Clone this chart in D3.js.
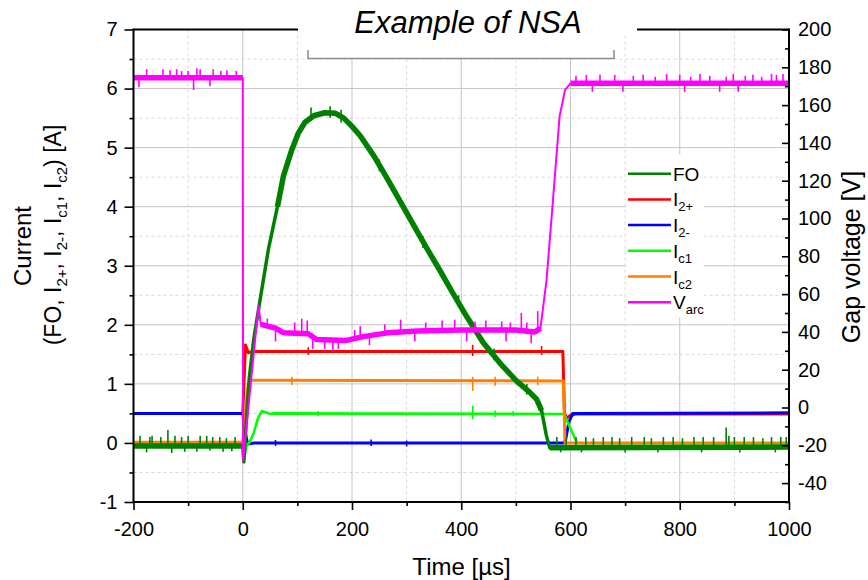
<!DOCTYPE html>
<html><head><meta charset="utf-8">
<script src="https://cdn.jsdelivr.net/npm/d3@7/dist/d3.min.js"></script>
<style>
body{margin:0;background:#fff;}
svg{display:block;font-family:"Liberation Sans",Arial,Helvetica,sans-serif;}
</style></head><body>
<svg id="chart" width="868" height="580"></svg>
<script>
// ---- axis ticks ----
const timeTicks = [-200, 0, 200, 400, 600, 800, 1000];
const timeMinor = [-100, 100, 300, 500, 700, 900];
const currentTicks = [-1, 0, 1, 2, 3, 4, 5, 6, 7];
const currentMinor = [-0.5, 0.5, 1.5, 2.5, 3.5, 4.5, 5.5, 6.5];
const voltageTicks = [-40, -20, 0, 20, 40, 60, 80, 100, 120, 140, 160, 180, 200];
const voltageMinor = [-50, -30, -10, 10, 30, 50, 70, 90, 110, 130, 150, 170, 190];

// ---- traces: [time µs, value] ----
const foTrace = [[-200,-0.05],[0,-0.05],[2,-0.32],[6,0.3],[12,1.1],[20,1.75],[34,2.55],[47,3.28],
  [63.5,4.0],[74.5,4.52],[90,4.97],[102,5.25],[114,5.43],[130,5.54],[150,5.59],[170,5.58],[185,5.5],
  [200,5.36],[215,5.2],[240,4.86],[263,4.5],[290,4.06],[312,3.7],[336,3.31],[361,2.92],[385,2.53],
  [410,2.14],[440,1.7],[470,1.36],[501,1.05],[525,0.86],[538,0.74],[547,0.55],[556,0.12],[562,-0.08],
  [1000,-0.07]];
const i2pTrace = [[-200,0.5],[0,0.5],[5,1.66],[10,1.53],[20,1.55],[586,1.55],[589,0.5],[593,0.42],
  [600,0.47],[610,0.49],[1000,0.49]];
const i2mTrace = [[-200,0.5],[0,0.5],[4,0.2],[9,-0.02],[20,0.0],[588,0.0],[591,0.05],[597,0.35],
  [604,0.5],[1000,0.51]];
const ic1Trace = [[-200,0.0],[0,0.0],[3,-0.25],[7,-0.03],[12,0.0],[20,0.17],[28,0.42],[35,0.54],
  [42,0.52],[50,0.49],[56,0.5],[588,0.49],[612,0.0],[1000,-0.01]];
const ic2Trace = [[-200,0.01],[0,0.01],[3,0.35],[10,1.0],[16,1.06],[587,1.05],[590,0.0],[1000,0.0]];
const varcTrace = [[-200,174.5],[0,174.5],[0.6,-28],[29,54],[33,44],[60,42],[75,39.5],[120,39],
  [135,36],[190,35.5],[220,37.5],[265,39.5],[320,40.5],[400,41],[500,41],[535,40],[545,42],
  [556,67],[568,110],[580,154],[590,168],[600,171.5],[1000,171.5]];

// time spans where a trace is a noisy plateau (drawn as a wider band)
const foBands = [[-200,0],[60,550],[562,1000]];
const varcBands = [[-200,0],[33,545],[600,1000]];

// ---- glitches: [time µs, low, high] ----
const foSpikes = [[-188,-0.05,0.12],[-176,-0.16,-0.05],[-170,-0.05,0.1],[-166,-0.05,0.12],[-150,-0.05,0.1],
  [-137,-0.05,0.22],[-130,-0.17,-0.05],[-124,-0.05,0.12],[-112,-0.05,0.1],[-106,-0.15,-0.05],[-100,-0.05,0.12],
  [-84,-0.15,-0.05],[-78,-0.05,0.12],[-66,-0.05,0.12],[-60,-0.13,-0.05],[-55,-0.05,0.1],[-42,-0.05,0.1],
  [-36,-0.15,-0.05],[-30,-0.05,0.08],[-20,-0.14,-0.05],[-14,-0.05,0.1],
  [575,-0.08,0.1],[582,-0.16,-0.08],[592,-0.08,0.08],[610,-0.08,0.1],[620,-0.16,-0.08],[628,-0.08,0.1],
  [642,-0.08,0.08],[660,-0.08,0.1],[676,-0.08,0.1],[690,-0.08,0.08],[700,-0.16,-0.08],[712,-0.08,0.1],
  [735,-0.08,0.1],[748,-0.08,0.08],[760,-0.16,-0.08],[770,-0.08,0.1],[788,-0.08,0.1],[805,-0.08,0.08],
  [826,-0.08,0.1],[840,-0.16,-0.08],[843,-0.08,0.1],[862,-0.08,0.1],[885,-0.08,0.26],[890,-0.08,0.12],
  [900,-0.08,0.1],[910,-0.16,-0.08],[918,-0.08,0.1],[935,-0.08,0.1],[952,-0.08,0.08],[968,-0.08,0.1],
  [975,-0.16,-0.08],[985,-0.08,0.1],[995,-0.08,0.1],
  [125,5.45,5.68],[160,5.5,5.7],[180,5.42,5.64],[250,4.6,4.8],[330,3.3,3.5],[395,2.3,2.5],[460,1.4,1.6],
  [520,0.82,1.0]];
const varcSpikes = [[-190,169.5,174.5],[-176,174.5,179],[-146,174.5,179],[-133,174.5,178.5],[-121,174.5,179],
  [-112,174.5,178],[-100,174.5,178],[-90,168,174.5],[-84,174.5,179.5],[-78,174.5,179],[-60,170,174.5],
  [-54,174.5,179],[-40,174.5,178],[-29,174.5,178.5],[-12,174.5,178],
  [45,42,47],[60,35,42],[95,39.5,45],[108,39,47],[118,39,46],[128,31,39],[150,31,36],[165,30,36],[175,31,36],
  [205,35.5,41],[215,37,43],[232,33,38],[260,39.5,44],[289,40,46.5],[315,35,40.5],[335,40.5,45],[365,40.5,46],
  [388,41,46.5],[410,35,41],[425,41,45.5],[445,41,46],[474,41,45.5],[482,35,41],[490,41,45],[510,41,50],
  [520,41,45],[528,34,41],[540,40,51],
  [610,171.5,175.5],[629,171.5,176],[640,167,171.5],[654,171.5,176],[681,171.5,176],[696,167,171.5],
  [715,171.5,175.5],[733,171.5,176],[755,171.5,175],[776,171.5,176.5],[800,171.5,176],[809,167,171.5],
  [820,171.5,175],[837,171.5,176.5],[855,171.5,175.5],[873,167,171.5],[885,171.5,175],[898,171.5,176.5],
  [907,167,171.5],[920,171.5,175.5],[934,171.5,176],[950,171.5,175],[968,171.5,176.5],[977,171.5,176],
  [989,171.5,176.5]];
const i2pSpikes = [[120,1.49,1.62],[421,1.47,1.66],[547,1.49,1.64]];
const i2mSpikes = [[60,-0.05,0.05],[235,-0.05,0.06],[300,-0.06,0.04]];
const ic1Spikes = [[138,0.45,0.54],[421,0.4,0.63],[462,0.44,0.55],[495,0.45,0.54]];
const ic2Spikes = [[90,0.98,1.12],[421,0.88,1.12],[462,0.97,1.12],[540,0.98,1.12]];

// ---- legend ----
const legendMain = ["FO", "I", "I", "I", "I", "V"];
const legendSub = ["", "2+", "2-", "c1", "c2", "arc"];
const seriesColors = ["#008000", "#ff0000", "#0000ff", "#00ff00", "#ff8000", "#ff00ff"];

// ---- layout ----
const svg = d3.select("#chart");
const L = 133.5, R = 789, T = 29.5, B = 502;
const x = d3.scaleLinear().domain([-200, 1000]).range([L, R]);
const yI = d3.scaleLinear().domain([-1, 7]).range([B, T]);
const yV = d3.scaleLinear().domain([-50, 200]).range([B, T]);
const plain = d => String(d);   // ASCII hyphen for negatives

// grid
const grid = svg.append("g");
timeMinor.forEach(t => grid.append("line").attr("x1", x(t)).attr("x2", x(t)).attr("y1", T).attr("y2", B)
  .attr("stroke", "#d9d9d9").attr("stroke-dasharray", "3,3"));
currentMinor.forEach(v => grid.append("line").attr("x1", L).attr("x2", R).attr("y1", yI(v)).attr("y2", yI(v))
  .attr("stroke", "#d9d9d9").attr("stroke-dasharray", "3,3"));
timeTicks.forEach(t => grid.append("line").attr("x1", x(t)).attr("x2", x(t)).attr("y1", T).attr("y2", B)
  .attr("stroke", "#c4c4c4"));
currentTicks.forEach(v => grid.append("line").attr("x1", L).attr("x2", R).attr("y1", yI(v)).attr("y2", yI(v))
  .attr("stroke", "#c4c4c4"));

// traces
const plot = svg.append("g");
function within(data, span) { return data.filter(d => d[0] >= span[0] && d[0] <= span[1]); }
function drawTrace(data, yScale, color, width, bands, bandWidth, spikes) {
  const line = d3.line().x(d => x(d[0])).y(d => yScale(d[1]));
  plot.append("path").datum(data).attr("d", line).attr("fill", "none")
    .attr("stroke", color).attr("stroke-width", width).attr("stroke-linejoin", "round");
  (bands || []).forEach(span => plot.append("path").datum(within(data, span)).attr("d", line)
    .attr("fill", "none").attr("stroke", color).attr("stroke-width", bandWidth).attr("stroke-linejoin", "round"));
  (spikes || []).forEach(s => plot.append("line").attr("x1", x(s[0])).attr("x2", x(s[0]))
    .attr("y1", yScale(s[1])).attr("y2", yScale(s[2])).attr("stroke", color).attr("stroke-width", 1.6));
}
drawTrace(i2pTrace, yI, seriesColors[1], 3, null, 0, i2pSpikes);
drawTrace(i2mTrace, yI, seriesColors[2], 3, null, 0, i2mSpikes);
drawTrace(ic1Trace, yI, seriesColors[3], 2.6, null, 0, ic1Spikes);
drawTrace(ic2Trace, yI, seriesColors[4], 3, null, 0, ic2Spikes);
drawTrace(foTrace, yI, seriesColors[0], 3.5, foBands, 5.5, foSpikes);
drawTrace(varcTrace, yV, seriesColors[5], 2, varcBands, 5.5, varcSpikes);

// axes
const axes = svg.append("g").attr("font-size", 20);
function styleAxis(g) {
  g.select(".domain").remove();
  g.selectAll(".tick line").attr("stroke", "#000").attr("stroke-width", 1.6);
  g.selectAll(".tick text").attr("fill", "#000").attr("font-size", 20)
    .attr("font-family", '"Liberation Sans",Arial,sans-serif');
}
axes.append("g").attr("transform", `translate(${L},0)`)
  .call(d3.axisLeft(yI).tickValues(currentTicks).tickSize(9).tickPadding(7).tickFormat(plain)).call(styleAxis);
axes.append("g").attr("transform", `translate(${L},0)`)
  .call(d3.axisLeft(yI).tickValues(currentMinor).tickSize(4).tickFormat("")).call(styleAxis);
axes.append("g").attr("transform", `translate(0,${B})`)
  .call(d3.axisBottom(x).tickValues(timeTicks).tickSize(8).tickPadding(12).tickFormat(plain)).call(styleAxis);
axes.append("g").attr("transform", `translate(0,${B})`)
  .call(d3.axisBottom(x).tickValues(timeMinor).tickSize(4).tickFormat("")).call(styleAxis);
axes.append("g").attr("transform", `translate(${R},0)`)
  .call(d3.axisRight(yV).tickValues(voltageTicks).tickSize(-7).tickPadding(9).tickFormat(plain)).call(styleAxis);
axes.append("g").attr("transform", `translate(${R},0)`)
  .call(d3.axisRight(yV).tickValues(voltageMinor).tickSize(-4).tickFormat("")).call(styleAxis);

// frame
const frame = svg.append("g").attr("stroke", "#000").attr("stroke-width", 2);
frame.append("line").attr("x1", L).attr("x2", L).attr("y1", T - 1).attr("y2", B + 1);
frame.append("line").attr("x1", R).attr("x2", R).attr("y1", T - 1).attr("y2", B + 1);
frame.append("line").attr("x1", L).attr("x2", R).attr("y1", B).attr("y2", B);
frame.append("line").attr("x1", L).attr("x2", R).attr("y1", T).attr("y2", T);

// title box
svg.append("rect").attr("x", 298).attr("y", 24).attr("width", 339).attr("height", 10).attr("fill", "#fff");
svg.append("rect").attr("x", 308).attr("y", 0).attr("width", 306).attr("height", 58).attr("fill", "#fff");
svg.append("path").attr("d", "M308,50V58.5H614V50").attr("fill", "none").attr("stroke", "#8c8c8c").attr("stroke-width", 1.5);
svg.append("text").attr("x", 468).attr("y", 33).attr("text-anchor", "middle")
  .attr("font-size", 31).attr("font-style", "italic").attr("fill", "#000").text("Example of NSA");

// legend
const lg = svg.append("g");
lg.append("rect").attr("x", 626).attr("y", 154).attr("width", 78).attr("height", 163).attr("fill", "#fff");
legendMain.forEach((m, i) => {
  const yy = 173.7 + i * 25.7;
  lg.append("line").attr("x1", 628).attr("x2", 671).attr("y1", yy).attr("y2", yy)
    .attr("stroke", seriesColors[i]).attr("stroke-width", 2.5);
  const t = lg.append("text").attr("x", 673).attr("y", yy + 7).attr("font-size", 19).attr("fill", "#000");
  t.append("tspan").text(m);
  if (legendSub[i]) t.append("tspan").attr("font-size", 13).attr("dy", 5).text(legendSub[i]);
});

// axis titles
svg.append("text").attr("x", 461.5).attr("y", 575).attr("text-anchor", "middle")
  .attr("font-size", 24).attr("fill", "#000").text("Time [µs]");
svg.append("text").attr("transform", "translate(31,246) rotate(-90)").attr("text-anchor", "middle")
  .attr("font-size", 24).attr("fill", "#000").text("Current");
const l2 = svg.append("text").attr("transform", "translate(60.5,235) rotate(-90)").attr("text-anchor", "middle")
  .attr("font-size", 23).attr("fill", "#000");
[["(FO, I", ""], ["", "2+"], [", I", ""], ["", "2-"], [", I", ""], ["", "c1"], [", I", ""], ["", "c2"], [") [A]", ""]]
  .forEach(([main, sub], k, arr) => {
    if (main) {
      const prevSub = k > 0 && arr[k - 1][1];
      l2.append("tspan").attr("dy", prevSub ? -6 : 0).text(main);
    } else {
      l2.append("tspan").attr("font-size", 15).attr("dy", 6).text(sub);
    }
  });
svg.append("text").attr("transform", "translate(860,257) rotate(-90)").attr("text-anchor", "middle")
  .attr("font-size", 25).attr("fill", "#000").text("Gap voltage [V]");
</script>
</body></html>
